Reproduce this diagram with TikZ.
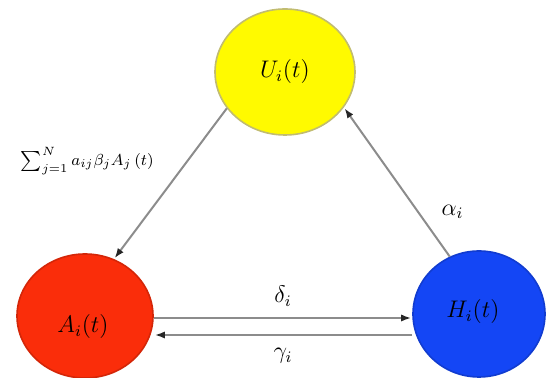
\documentclass[tikz,border=0pt]{standalone}
\usepackage{xcolor}
\usepackage{tikz}
\usetikzlibrary{arrows.meta,shapes.geometric}

\definecolor{uyellow}{RGB}{255,250,0}
\definecolor{ared}{RGB}{250,45,10}
\definecolor{hblue}{RGB}{20,70,245}

\begin{document}
\begin{tikzpicture}[
  x=0.5pt, y=-0.5pt,
  font=\large,
  state/.style={ellipse, thick, minimum width=68pt, minimum height=62pt, inner sep=0pt},
  arr/.style={-{Latex[length=5pt,width=3.6pt,color=black!85]}, draw=black!45, line width=1pt,
              shorten >=0.5pt}
]
\useasboundingbox (0,0) rectangle (547,378);
\node[state, fill=uyellow, draw=yellow!60!black!70, minimum width=70pt, minimum height=63pt] (U) at (285,72) {$U_i(t)$};
\node[state, fill=ared, draw=ared!85!black] (A) at (85,316) {};
\node[state, fill=hblue, draw=hblue!85!black, minimum width=66pt, minimum height=63pt] (H) at (479,314) {};
\node at (83,327) {$A_i(t)$};
\node at (473,312) {$H_i(t)$};
% infection and recovery links
\draw[arr] (U.212) -- node[left=13pt, pos=0.35, font=\footnotesize] {$\sum_{j=1}^{N} a_{ij}\beta_j A_j\left(t\right)$} (A.63);
\draw[arr] (H.117) -- node[right=8pt, pos=0.3] {$\alpha_i$} (U.329);
\draw[arr] ([yshift=-1pt]A.east) -- node[above=2pt] {$\delta_i$} ([yshift=-2pt]H.west);
\draw[arr] ([yshift=-10.5pt]H.west) -- node[below=3pt] {$\gamma_i$} ([yshift=-9.5pt]A.east);
\end{tikzpicture}
\end{document}
